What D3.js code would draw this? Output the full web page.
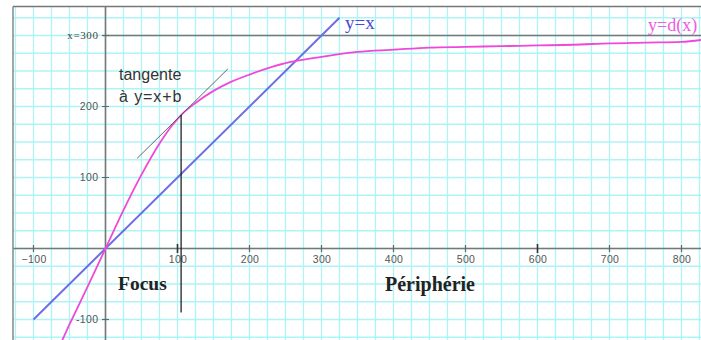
<!DOCTYPE html>
<html><head><meta charset="utf-8">
<script src="https://cdn.jsdelivr.net/npm/d3@7"></script>
<style>body{margin:0;background:#fff}svg{display:block}</style>
</head><body>
<svg id="c" width="701" height="340"></svg>
<script>
// Data
const curveX = [-75,-50,-25,0,25,50,75,90,105,125,150,175,200,250,300,350,400,450,500,550,600,650,700,750,800,830];
const curveY = [-162,-107,-54,0,54,104,148,170,188,205,222,235,245,261,270,277,280,283,284,285,286,287,289,290,291,294];
const identityX = [-100, 325];
const xTicks = [-100,100,200,300,400,500,600,700,800];
const yTicks = [-100,100,200];
const yTickLabels = ["-100","100","200"];
const limitY = 300, limitLabel = "x=300";
const tangentX = [44, 170], tangentB = 83;
const tangentPoint = [105, 188];
const verticalBottom = -90;

(function(){
const svg = d3.select("#c");
const W = 701, H = 340;
const fLeft = 13, fTop = 6.5;
const x = d3.scaleLinear().domain([-100, 800]).range([33.5, 681.5]);
const y = d3.scaleLinear().domain([-100, 300]).range([319.5, 35.5]);

svg.append("defs").append("clipPath").attr("id","clip")
  .append("rect").attr("x",fLeft).attr("y",fTop).attr("width",W-fLeft).attr("height",H-fTop);

const g = svg.append("g").attr("clip-path","url(#clip)");

// grid
const gx = d3.range(-125, 851, 25), gy = d3.range(-125, 351, 25);
g.selectAll(".gv").data(gx).join("line")
  .attr("x1",d=>x(d)).attr("x2",d=>x(d)).attr("y1",fTop).attr("y2",H)
  .attr("stroke","#aef3f5").attr("stroke-width",1.3);
g.selectAll(".gh").data(gy).join("line")
  .attr("y1",d=>y(d)).attr("y2",d=>y(d)).attr("x1",fLeft).attr("x2",W)
  .attr("stroke","#aef3f5").attr("stroke-width",1.3);

// frame
svg.append("line").attr("x1",fLeft).attr("x2",fLeft).attr("y1",fTop).attr("y2",H).attr("stroke","#888").attr("stroke-width",1.5);
svg.append("line").attr("x1",fLeft).attr("x2",W).attr("y1",fTop).attr("y2",fTop).attr("stroke","#777").attr("stroke-width",1.5);

// axes
g.append("line").attr("x1",fLeft).attr("x2",W).attr("y1",y(0)).attr("y2",y(0)).attr("stroke","#777").attr("stroke-width",1.6);
g.append("line").attr("x1",x(0)).attr("x2",x(0)).attr("y1",fTop).attr("y2",H).attr("stroke","#777").attr("stroke-width",1.6);
// x=300 line
g.append("line").attr("x1",x(0)-3).attr("x2",W).attr("y1",y(limitY)).attr("y2",y(limitY)).attr("stroke","#777").attr("stroke-width",1.6);

const tickFont = "Liberation Sans, Arial, sans-serif";
// x ticks
const xa = d3.axisBottom(x).tickValues(xTicks).tickSize(0).tickPadding(7).tickFormat(d3.format("d"));
const xg = g.append("g").attr("transform",`translate(0,${y(0)})`).call(xa);
xg.select(".domain").remove();
xg.selectAll("text").attr("font-family",tickFont).attr("font-size",10.5).attr("letter-spacing",0.4).attr("fill","#555");
g.selectAll(".xt").data(xTicks).join("line")
  .attr("x1",d=>x(d)).attr("x2",d=>x(d))
  .attr("y1",d=>y(0)-(d===100||d===600?4.5:3.5)).attr("y2",d=>y(0)+(d===100||d===600?4.5:3.5))
  .attr("stroke",d=>(d===100||d===600)?"#333":"#666").attr("stroke-width",d=>(d===100||d===600)?1.6:1.2);

// y ticks
const ya = d3.axisLeft(y).tickValues(yTicks).tickSize(0).tickPadding(7).tickFormat((d,i)=>yTickLabels[i]);
const yg = g.append("g").attr("transform",`translate(${x(0)},0)`).call(ya);
yg.select(".domain").remove();
yg.selectAll("text").attr("font-family",tickFont).attr("font-size",10.5).attr("letter-spacing",0.4).attr("fill","#555");
g.selectAll(".yt").data(yTicks.concat([limitY])).join("line")
  .attr("x1",x(0)-3.5).attr("x2",x(0)+3.5).attr("y1",d=>y(d)).attr("y2",d=>y(d))
  .attr("stroke","#666").attr("stroke-width",1.2);
svg.append("text").attr("x",x(0)-7).attr("y",y(limitY)).attr("dy","0.33em").attr("text-anchor","end")
  .attr("font-family","Liberation Serif, Times New Roman, serif").attr("font-size",11).attr("letter-spacing",0.6).attr("fill","#444").text(limitLabel);

// y=x line
g.append("line").attr("x1",x(identityX[0])).attr("y1",y(identityX[0]))
  .attr("x2",x(identityX[1])).attr("y2",y(identityX[1]))
  .attr("stroke","#6d6de6").attr("stroke-width",2);

// d(x) curve
const pts = curveX.map((v,i)=>[v,curveY[i]]);
g.append("path").datum(pts)
  .attr("d", d3.line().x(d=>x(d[0])).y(d=>y(d[1])).curve(d3.curveMonotoneX))
  .attr("fill","none").attr("stroke","#f048d8").attr("stroke-width",1.8);

// tangent
g.append("line").attr("x1",x(tangentX[0])).attr("y1",y(tangentX[0]+tangentB))
  .attr("x2",x(tangentX[1])).attr("y2",y(tangentX[1]+tangentB))
  .attr("stroke","#555").attr("stroke-width",0.9);
// vertical at tangent point
g.append("line").attr("x1",x(tangentPoint[0])).attr("x2",x(tangentPoint[0]))
  .attr("y1",y(tangentPoint[1])).attr("y2",y(verticalBottom))
  .attr("stroke","#111").attr("stroke-width",1.2);

// texts
const sans = "Liberation Sans, Arial, sans-serif", serif = "Liberation Serif, Times New Roman, serif";
svg.append("text").attr("x",119).attr("y",80).attr("font-family",sans).attr("font-size",16).attr("fill","#333").text("tangente");
svg.append("text").attr("x",119).attr("y",102).attr("font-family",sans).attr("font-size",16).attr("letter-spacing",0.9).attr("fill","#333").text("à y=x+b");
svg.append("text").attr("x",118).attr("y",290).attr("font-family",serif).attr("font-weight","bold").attr("font-size",19.5).attr("fill","#222").text("Focus");
svg.append("text").attr("x",385).attr("y",291).attr("font-family",serif).attr("font-weight","bold").attr("font-size",20).attr("fill","#222").text("Périphérie");
svg.append("text").attr("x",345).attr("y",29).attr("font-family",serif).attr("font-size",19).attr("fill","#4848d8").text("y=x");
svg.append("text").attr("x",648).attr("y",31).attr("font-family",serif).attr("font-size",18).attr("fill","#ee5ce0").text("y=d(x)");
})();
</script>
</body></html>
